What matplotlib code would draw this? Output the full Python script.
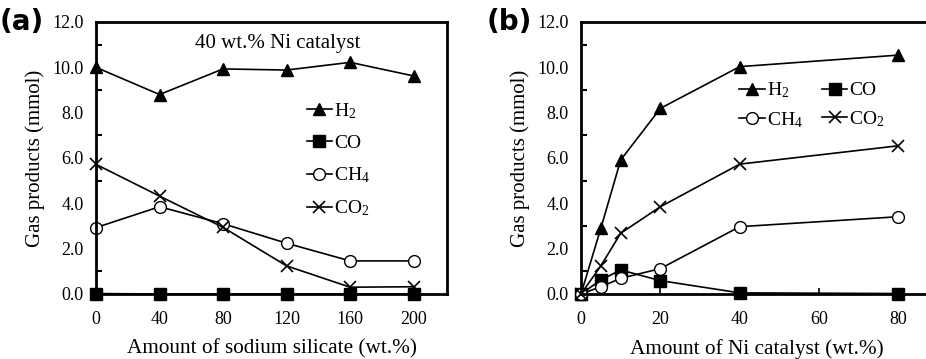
import matplotlib
matplotlib.use("Agg")
from matplotlib import pyplot as plt
from matplotlib.ticker import MultipleLocator

plt.rcParams["font.family"] = ["Liberation Serif", "DejaVu Serif"]
plt.rcParams["mathtext.fontset"] = "custom"
plt.rcParams["mathtext.rm"] = "Liberation Serif"
plt.rcParams["mathtext.it"] = "Liberation Serif:italic"

# panel (a): sodium silicate series, 40 wt.% Ni catalyst
silicate = [0, 40, 80, 120, 160, 200]
h2_a = [10.0, 8.8, 9.93, 9.88, 10.22, 9.62]
co_a = [0.02, 0.0, 0.0, 0.0, 0.0, 0.0]
ch4_a = [2.93, 3.85, 3.1, 2.24, 1.46, 1.46]
co2_a = [5.72, 4.32, 2.94, 1.24, 0.3, 0.32]

# panel (b): Ni catalyst loading
ni = [0, 5, 10, 20, 40, 80]
h2_b = [0.0, 2.9, 5.91, 8.19, 10.03, 10.54]
co_b = [0.0, 0.62, 1.06, 0.59, 0.05, 0.02]
ch4_b = [0.0, 0.32, 0.69, 1.12, 2.97, 3.41]
co2_b = [0.0, 1.24, 2.68, 3.85, 5.73, 6.54]

labels = ["H$_2$", "CO", "CH$_4$", "CO$_2$"]
yticks = [0, 2, 4, 6, 8, 10, 12]

fig = plt.figure(figsize=(9.26, 3.59), dpi=100)
ax1 = fig.add_axes([96/926, 65/359, 351/926, 272/359])
ax2 = fig.add_axes([581/926, 65/359, 352/926, 272/359])

def draw(ax, x, h2, co, ch4, co2):
    kw = dict(color="black", lw=1.2, clip_on=False)
    l1, = ax.plot(x, h2, marker="^", ms=8.5, mfc="black", label=labels[0], **kw)
    l2, = ax.plot(x, co, marker="s", ms=8, mfc="black", label=labels[1], **kw)
    l3, = ax.plot(x, ch4, marker="o", ms=8.5, mfc="white", mec="black", label=labels[2], **kw)
    l4, = ax.plot(x, co2, marker="x", ms=8.5, mew=1.2, label=labels[3], **kw)
    ax.set_ylim(0, 12)
    ax.set_yticks(yticks)
    ax.set_yticklabels(["%.1f" % v for v in yticks])
    ax.yaxis.set_minor_locator(MultipleLocator(1))
    ax.tick_params(axis="both", which="both", direction="in", labelsize=13)
    ax.tick_params(axis="y", which="major", length=0, pad=9)
    ax.tick_params(axis="y", which="minor", length=4, width=1.5)
    ax.tick_params(axis="x", pad=12)
    for s in ax.spines.values():
        s.set_linewidth(2)
    ax.set_ylabel("Gas products (mmol)", fontsize=15, labelpad=5)
    return [l1, l2, l3, l4]

draw(ax1, silicate, h2_a, co_a, ch4_a, co2_a)
ax1.set_xlim(0, 221)
ax1.set_xticks(silicate)
ax1.tick_params(axis="x", length=0)
ax1.set_xlabel("Amount of sodium silicate (wt.%)", fontsize=15.3, labelpad=8)
ax1.text(0.519, 0.92, "40 wt.% Ni catalyst", transform=ax1.transAxes,
         ha="center", va="center", fontsize=15)
ax1.legend(loc="upper left", bbox_to_anchor=(0.6, 0.71), frameon=False,
           fontsize=14, handlelength=1.3, handletextpad=0.1, labelspacing=0.7,
           borderaxespad=0, borderpad=0)
fig.text(0.0, 0.94, "(a)", fontsize=20, fontweight="bold",
         family="DejaVu Sans", va="center", ha="left")

hs = draw(ax2, ni, h2_b, co_b, ch4_b, co2_b)
ax2.set_xlim(0, 88.7)
ax2.set_xticks([0, 20, 40, 60, 80])
ax2.tick_params(axis="x", length=4, width=1.2)
ax2.spines["right"].set_visible(False)
ax2.set_xlabel("Amount of Ni catalyst (wt.%)", fontsize=15.3, labelpad=8)
order = [0, 2, 1, 3]
ax2.legend([hs[i] for i in order], [labels[i] for i in order],
           loc="upper left", bbox_to_anchor=(0.45, 0.785), frameon=False, ncol=2,
           fontsize=14, handlelength=1.3, handletextpad=0.1, labelspacing=0.5,
           columnspacing=1.0, borderaxespad=0, borderpad=0)
fig.text(0.525, 0.94, "(b)", fontsize=20, fontweight="bold",
         family="DejaVu Sans", va="center", ha="left")

fig.savefig("out.png", dpi=100)
